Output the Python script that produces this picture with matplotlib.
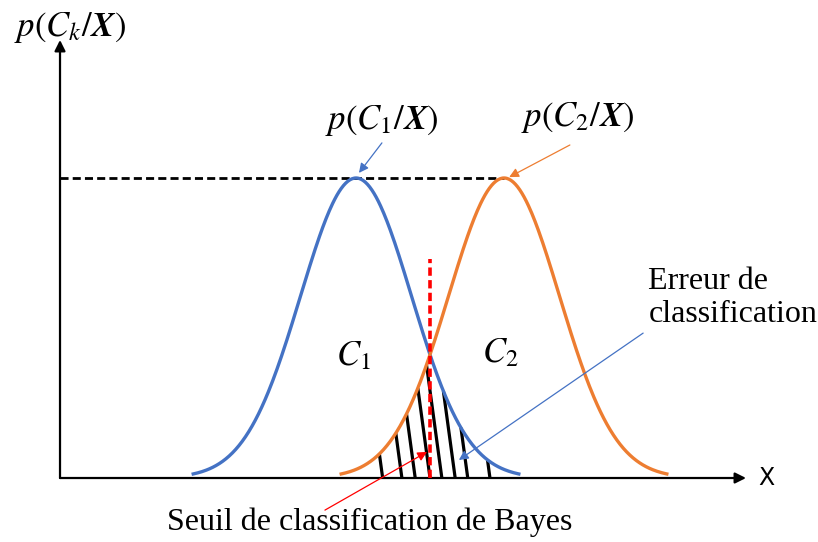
import numpy as np
import matplotlib
matplotlib.use('Agg')
import matplotlib.pyplot as plt

# class parameters (x units, peak height 1)
means = [4.0, 6.0]
sigma = 0.75
x_span = 2.2
colors = ['#4472C4', '#ED7D31']
threshold = 5.0
# bottoms of the hatch strokes in the error area
hatch_x = [4.36, 4.62, 4.80, 5.0, 5.16, 5.34, 5.51, 5.81]


def bell(x, m):
    return np.exp(-(x - m) ** 2 / (2 * sigma ** 2))


plt.rcParams['mathtext.fontset'] = 'stix'
fig = plt.figure(figsize=(8.18, 5.42), dpi=100)
ax = fig.add_axes([0, 0, 1, 1])
ax.set_xlim(-0.811, 10.243)
ax.set_ylim(-0.2133, 1.5933)
ax.axis('off')

# axes with arrows
arrow = dict(arrowstyle='-|>', color='black', lw=1.6, mutation_scale=16,
             shrinkA=0, shrinkB=0)
ax.annotate('', xy=(9.27, 0), xytext=(0, 0), arrowprops=arrow)
ax.annotate('', xy=(0, 1.46), xytext=(0, 0), arrowprops=arrow)
ax.text(9.43, 0.0, 'X', fontsize=17, family='DejaVu Sans', va='center', ha='left')

# curves
for m, c in zip(means, colors):
    xs = np.linspace(m - x_span, m + x_span, 300)
    ax.plot(xs, bell(xs, m), color=c, lw=2.4, zorder=3)

# hatch strokes under the overlap
def low(x):
    return min(bell(x, means[0]), bell(x, means[1]))

for xb in hatch_x:
    xt = xb
    for _ in range(20):
        xt = xb - 0.55 * low(xt)
    ax.plot([xb, xt], [0, low(xt)], color='black', lw=2.3, zorder=2,
            solid_capstyle='butt')

# dashed peak level and threshold
ax.plot([0, means[1]], [1, 1], color='black', lw=2, ls=(0, (2.9, 1.5)), zorder=1)
ax.plot([threshold, threshold], [0, 0.73], color='red', lw=2.6,
        ls=(0, (2.3, 1.2)), zorder=4)

# labels
ax.text(0.14, 1.503, r'$p(C_k/\boldsymbol{X})$', fontsize=25, ha='center', va='center')
ax.text(4.34, 1.193, r'$p(C_1/\boldsymbol{X})$', fontsize=25, ha='center', va='center')
ax.text(7.0, 1.2, r'$p(C_2/\boldsymbol{X})$', fontsize=25, ha='center', va='center')
ax.text(3.97, 0.41, r'$C_1$', fontsize=25, ha='center', va='center')
ax.text(5.95, 0.42, r'$C_2$', fontsize=25, ha='center', va='center')
ax.text(7.95, 0.6, 'Erreur de\nclassification', fontsize=23,
        family='Liberation Serif', ha='left', va='center', linespacing=1.15)
ax.text(4.19, -0.147, 'Seuil de classification de Bayes', fontsize=23,
        family='Liberation Serif', ha='center', va='center')

# pointer arrows
def pointer(start, tip, c):
    ax.annotate('', xy=tip, xytext=start, zorder=5,
                arrowprops=dict(arrowstyle='-|>', color=c, lw=0.9,
                                mutation_scale=14, shrinkA=0, shrinkB=0))

pointer((4.35, 1.117), (4.04, 1.017), colors[0])
pointer((6.89, 1.11), (6.07, 1.003), colors[1])
pointer((7.88, 0.483), (5.39, 0.06), colors[0])
pointer((3.58, -0.107), (4.96, 0.087), 'red')

fig.savefig('out.png', dpi=100)
